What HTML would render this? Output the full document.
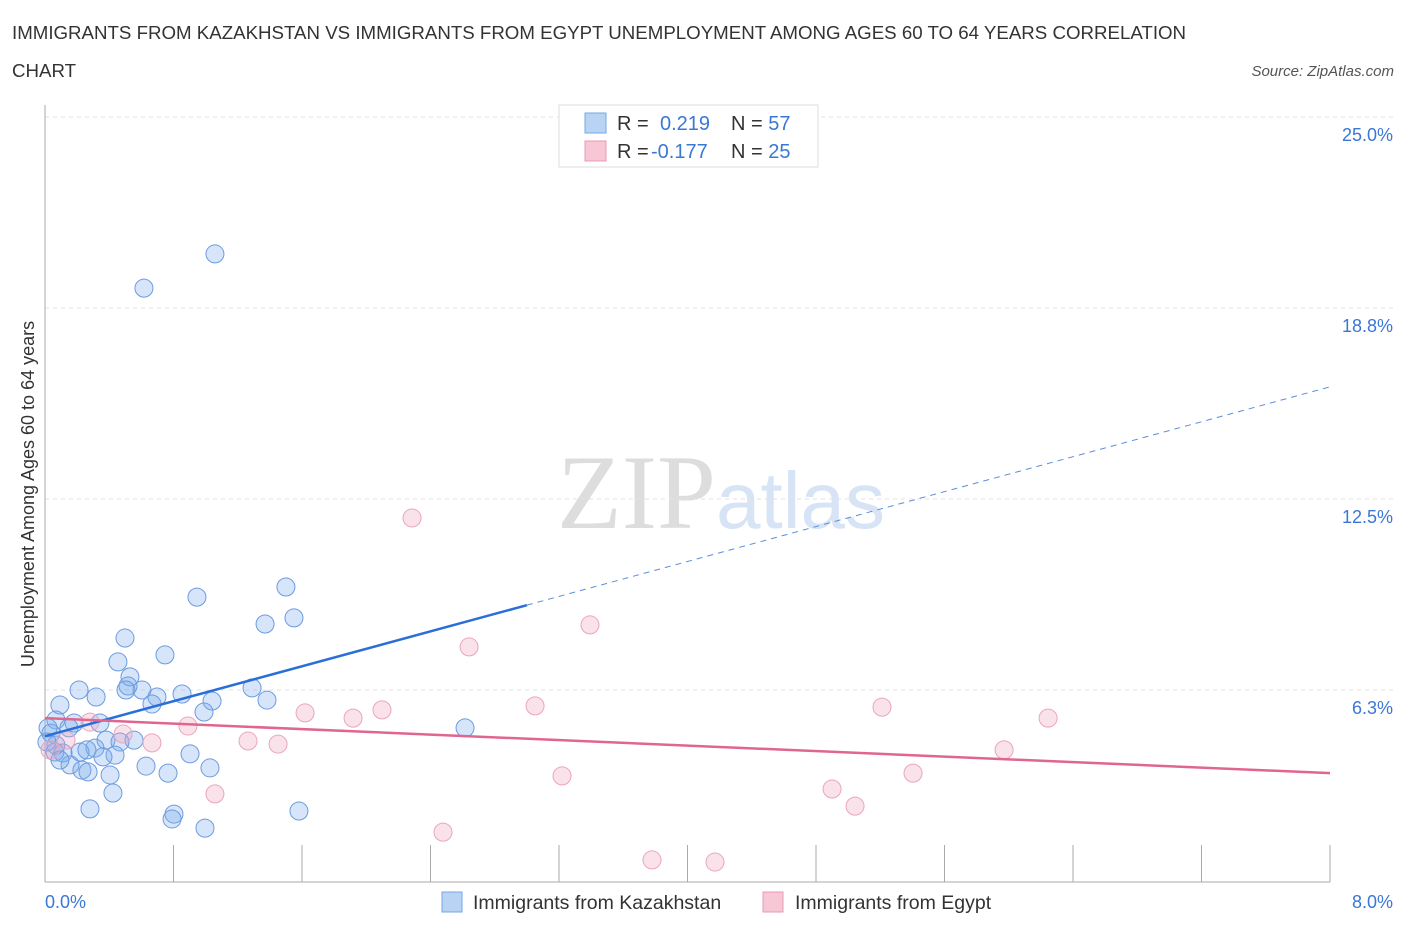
<!DOCTYPE html>
<html><head><meta charset="utf-8"><style>
body{margin:0;background:#fff;font-family:"Liberation Sans",sans-serif;}
</style></head><body>
<svg width="1406" height="930" xmlns="http://www.w3.org/2000/svg" style="font-family:'Liberation Sans',sans-serif">
<text x="12" y="39" font-size="18.7" fill="#333">IMMIGRANTS FROM KAZAKHSTAN VS IMMIGRANTS FROM EGYPT UNEMPLOYMENT AMONG AGES 60 TO 64 YEARS CORRELATION</text>
<text x="12" y="77" font-size="18.7" fill="#333">CHART</text>
<text x="1394" y="76" font-size="15" fill="#555" font-style="italic" text-anchor="end">Source: ZipAtlas.com</text>
<text x="716" y="528" font-size="106" font-family="'Liberation Serif',serif" fill="#ddd" text-anchor="end">ZIP</text>
<text x="716" y="528" font-size="80" fill="#d6e4f5">atlas</text>
<g id="grid"></g>
<g id="axes"></g>
<text transform="translate(34,494) rotate(-90)" font-size="18" fill="#333" text-anchor="middle">Unemployment Among Ages 60 to 64 years</text>
<text x="45" y="908" font-size="18" fill="#3a78d4">0.0%</text>
<text x="1393" y="908" font-size="18" fill="#3a78d4" text-anchor="end">8.0%</text>
<g id="marks"></g>
<g>
<rect x="559" y="105" width="259" height="62" fill="#fff" stroke="#ddd"/>
<rect x="585" y="113" width="21" height="20" fill="#b9d3f5" stroke="#7aa6e3"/>
<rect x="585" y="141" width="21" height="20" fill="#f8c7d6" stroke="#eb9ab4"/>
<text x="617" y="130" font-size="20" fill="#333">R = <tspan fill="#3a78d4" x="660">0.219</tspan><tspan x="731" fill="#333">N = </tspan><tspan fill="#3a78d4">57</tspan></text>
<text x="617" y="158" font-size="20" fill="#333">R = <tspan fill="#3a78d4" x="651">-0.177</tspan><tspan x="731" fill="#333">N = </tspan><tspan fill="#3a78d4">25</tspan></text>
</g>
<g>
<rect x="442" y="892" width="20" height="20" fill="#b9d3f5" stroke="#7aa6e3"/>
<text x="473" y="909" font-size="19.5" fill="#333">Immigrants from Kazakhstan</text>
<rect x="763" y="892" width="20" height="20" fill="#f8c7d6" stroke="#eb9ab4"/>
<text x="795" y="909" font-size="19.5" fill="#333">Immigrants from Egypt</text>
</g>
</svg>
<script>
const yTicks=[6.25,12.5,18.75,25];
const yTickLabels=["6.3%","12.5%","18.8%","25.0%"];
const blueX=[1.058,0.616,0.946,1.500,1.550,1.370,0.498,0.747,0.454,0.529,0.517,0.504,0.604,0.853,0.697,0.666,0.212,0.318,0.093,1.289,1.382,1.040,0.990,2.615,0.068,0.181,0.342,0.149,0.037,0.068,0.380,0.554,0.467,0.311,0.218,0.112,0.436,0.062,0.361,0.903,0.156,0.230,0.268,0.405,0.629,0.766,1.027,0.423,0.280,0.803,0.791,0.996,1.581,0.012,0.019,0.093,0.261];
const blueY=[20.52,19.40,9.29,9.62,8.61,8.41,7.95,7.40,7.17,6.68,6.38,6.25,6.25,6.12,6.02,5.79,6.25,6.02,5.76,6.32,5.92,5.89,5.53,5.01,5.27,5.17,5.17,5.01,4.84,4.45,4.61,4.61,4.55,4.35,4.22,4.19,4.12,4.22,4.06,4.16,3.80,3.63,3.57,3.47,3.76,3.53,3.70,2.88,2.36,2.19,2.03,1.73,2.29,4.55,5.01,3.96,4.29];
const pinkX=[2.285,3.393,2.640,3.051,2.098,1.619,1.918,0.890,0.280,0.486,0.666,1.264,1.451,0.131,0.031,5.211,6.245,5.971,5.404,3.219,4.900,5.043,1.058,2.478,3.779,4.171];
const pinkY=[11.88,8.38,7.66,5.73,5.60,5.50,5.33,5.07,5.20,4.81,4.52,4.58,4.48,4.61,4.29,5.69,5.33,4.29,3.53,3.44,3.01,2.45,2.85,1.60,0.69,0.62];
const blueTrend=[4.74,16.17];
const blueSolidEnd=3.0;
const pinkTrend=[5.33,3.53];
const NS="http://www.w3.org/2000/svg";
const xs=v=>45+v/8*1285;
const ys=v=>881-v/6.25*191;
function mk(tag,attrs,parent){const e=document.createElementNS(NS,tag);for(const k in attrs)e.setAttribute(k,attrs[k]);document.getElementById(parent).appendChild(e);return e;}
yTicks.forEach((t,i)=>{
 const l=mk('line',{x1:45,x2:1395,y1:ys(t),y2:ys(t),stroke:'#e2e2e2','stroke-dasharray':'4,4'},'grid');
 
 
 const tx=mk('text',{x:1393,y:ys(t)+24,'font-size':18,fill:'#3a78d4','text-anchor':'end'},'grid');
 tx.textContent=yTickLabels[i];
 
 
});
let a=mk('line',{x1:45,x2:45,y1:105,y2:882,stroke:'#aaa'},'axes');


a=mk('line',{x1:45,x2:1330,y1:882,y2:882,stroke:'#aaa'},'axes');


for(let i=0;i<=10;i++){
 const t=mk('line',{x1:xs(i*0.8),x2:xs(i*0.8),y1:845,y2:882,stroke:'#aaa'},'axes');
 
 
}
blueX.forEach((x,i)=>{
 const c=mk('circle',{cx:xs(x),cy:ys(blueY[i]),r:9,fill:'rgba(120,170,235,0.3)',stroke:'#6d9be0','stroke-width':1},'marks');
 
 
});
pinkX.forEach((x,i)=>{
 const c=mk('circle',{cx:xs(x),cy:ys(pinkY[i]),r:9,fill:'rgba(240,160,190,0.3)',stroke:'#eba5bc','stroke-width':1},'marks');
 
 
});
const by=x=>blueTrend[0]+(blueTrend[1]-blueTrend[0])*x/8;
let l=mk('line',{x1:xs(0),y1:ys(by(0)),x2:xs(blueSolidEnd),y2:ys(by(blueSolidEnd)),stroke:'#2a6fd8','stroke-width':2.5},'marks');


l=mk('line',{x1:xs(blueSolidEnd),y1:ys(by(blueSolidEnd)),x2:xs(8),y2:ys(by(8)),stroke:'#5b8fd9','stroke-width':1,'stroke-dasharray':'6,5'},'marks');


l=mk('line',{x1:xs(0),y1:ys(pinkTrend[0]),x2:xs(8),y2:ys(pinkTrend[1]),stroke:'#e0668f','stroke-width':2.5},'marks');


</script>
</body></html>
